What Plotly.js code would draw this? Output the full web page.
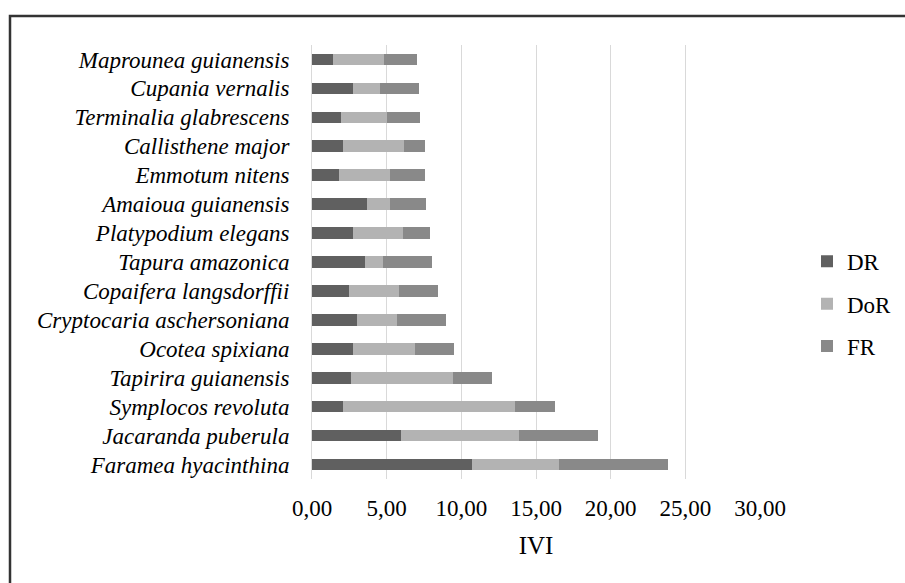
<!DOCTYPE html>
<html>
<head>
<meta charset="utf-8">
<script src="https://cdn.plot.ly/plotly-3.0.1.min.js"></script>
<style>
html,body{margin:0;padding:0;background:#fff;}
#chart{width:905px;height:583px;}
</style>
</head>
<body>
<div id="chart"></div>
<script>
// Species listed top to bottom as in the reference
const species = [
  "Maprounea guianensis",
  "Cupania vernalis",
  "Terminalia glabrescens",
  "Callisthene major",
  "Emmotum nitens",
  "Amaioua guianensis",
  "Platypodium elegans",
  "Tapura amazonica",
  "Copaifera langsdorffii",
  "Cryptocaria aschersoniana",
  "Ocotea spixiana",
  "Tapirira guianensis",
  "Symplocos revoluta",
  "Jacaranda puberula",
  "Faramea hyacinthina"
];
const DR  = [1.43, 2.74, 1.96, 2.09, 1.80, 3.68, 2.74, 3.54, 2.47, 3.01, 2.74, 2.61, 2.07, 5.93, 10.72];
const DoR = [3.38, 1.81, 3.05, 4.06, 3.41, 1.53, 3.36, 1.23, 3.35, 2.70, 4.17, 6.82, 11.54, 7.91, 5.84];
const FR  = [2.21, 2.63, 2.23, 1.43, 2.39, 2.43, 1.81, 3.27, 2.63, 3.25, 2.61, 2.65, 2.63, 5.28, 7.30];

const seriesNames = ["DR", "DoR", "FR"];
const seriesColors = ["#606060", "#b3b3b3", "#898989"];
const seriesValues = [DR, DoR, FR];

const xTickVals = [0, 5, 10, 15, 20, 25, 30];
const xTickText = ["0,00", "5,00", "10,00", "15,00", "20,00", "25,00", "30,00"];

const traces = seriesNames.map((n, i) => ({
  type: "bar",
  orientation: "h",
  name: n,
  legendgroup: n,
  x: seriesValues[i],
  y: species,
  marker: {color: seriesColors[i], line: {width: 0}}
}));

const W = 905, H = 583;
const mL = 312, mR = 145, mT = 45, mB = 103.5;
const pw = W - mL - mR, ph = H - mT - mB;
const px2x = p => (p - mL) / pw;
const py2y = p => (H - mB - p) / ph;

const font = "Liberation Serif, Times New Roman, serif";

const layout = {
  width: W, height: H,
  margin: {l: mL, r: mR, t: mT, b: mB, pad: 0, autoexpand: false},
  paper_bgcolor: "#fff",
  plot_bgcolor: "#fff",
  barmode: "stack",
  bargap: 0.6,
  showlegend: true,
  font: {family: font, color: "#000"},
  xaxis: {
    range: [0, 30],
    tickvals: xTickVals,
    ticktext: xTickText,
    showgrid: true,
    gridcolor: "#d9d9d9",
    gridwidth: 1,
    zeroline: false,
    showline: false,
    ticks: "",
    ticklabelstandoff: 13,
    tickfont: {family: font, size: 23, color: "#000"},
    title: {text: "IVI", font: {family: font, size: 25, color: "#000"}, standoff: 16},
    fixedrange: true
  },
  yaxis: {
    autorange: "reversed",
    type: "category",
    showgrid: false,
    zeroline: false,
    showline: true,
    linecolor: "#d9d9d9",
    linewidth: 1,
    ticks: "",
    ticklabelstandoff: 17,
    tickfont: {family: font, size: 23, color: "#000", style: "italic"},
    fixedrange: true
  },
  legend: {
    x: px2x(807), xanchor: "left",
    y: py2y(240), yanchor: "top",
    traceorder: "grouped",
    tracegroupgap: 9.5,
    itemwidth: 30,
    font: {family: font, size: 23, color: "#000"},
    bgcolor: "rgba(0,0,0,0)"
  },
  shapes: [{
    type: "rect",
    xref: "paper", yref: "paper",
    x0: px2x(10), x1: px2x(1000),
    y0: py2y(700), y1: py2y(16),
    line: {color: "#333333", width: 2.5},
    fillcolor: "rgba(0,0,0,0)",
    layer: "above"
  }]
};

Plotly.newPlot("chart", traces, layout, {displayModeBar: false, staticPlot: true});
</script>
</body>
</html>
